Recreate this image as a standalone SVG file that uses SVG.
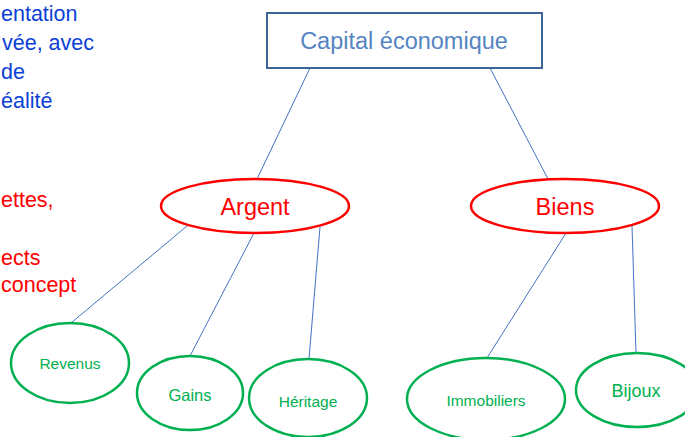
<svg xmlns="http://www.w3.org/2000/svg" width="685" height="437" viewBox="0 0 685 437">
<style>
text{font-family:"Liberation Sans",Arial,sans-serif}
.side-b{fill:#0B3FD6;font-size:21.5px}
.side-r{fill:#FF0000;font-size:21.5px}
.conn{stroke:#4472C4;stroke-width:1;fill:none}
.red ellipse{fill:#fff;stroke:#FF0000;stroke-width:2.5}
.red text{fill:#FF0000;font-size:23.5px;text-anchor:middle}
.green ellipse{fill:#fff;stroke:#00B050;stroke-width:2.5}
.green text{fill:#00B050;text-anchor:middle}
</style>
<rect width="685" height="437" fill="#fff"/>
<g id="side-text">
<text class="side-b" x="1" y="21">entation</text>
<text class="side-b" x="2" y="50">vée, avec</text>
<text class="side-b" x="1" y="79">de</text>
<text class="side-b" x="1" y="108">éalité</text>
<text class="side-r" x="1" y="207">ettes,</text>
<text class="side-r" x="1" y="265">ects</text>
<text class="side-r" x="1" y="292">concept</text>
</g>
<g id="connectors">
<line class="conn" x1="310" y1="68" x2="257" y2="179"/>
<line class="conn" x1="490" y1="68" x2="548" y2="179"/>
<line class="conn" x1="187" y1="226" x2="71" y2="323"/>
<line class="conn" x1="254" y1="233" x2="190" y2="356"/>
<line class="conn" x1="320" y1="227" x2="309" y2="359"/>
<line class="conn" x1="566" y1="233" x2="487" y2="358"/>
<line class="conn" x1="632" y1="226" x2="636" y2="353"/>
</g>
<g id="capital">
<rect x="267" y="13" width="275" height="55" fill="#fff" stroke="#3D6496" stroke-width="2"/>
<text x="404" y="49" text-anchor="middle" font-size="23.5" fill="#5584C2">Capital économique</text>
</g>
<g id="argent" class="red">
<ellipse cx="255" cy="206" rx="94" ry="27"/>
<text x="255" y="215">Argent</text>
</g>
<g id="biens" class="red">
<ellipse cx="565" cy="206" rx="94" ry="27"/>
<text x="565" y="215">Biens</text>
</g>
<g id="revenus" class="green">
<ellipse cx="70" cy="363" rx="59" ry="40"/>
<text x="70" y="369" font-size="15.5">Revenus</text>
</g>
<g id="gains" class="green">
<ellipse cx="190" cy="393" rx="53" ry="37"/>
<text x="190" y="401" font-size="16.5">Gains</text>
</g>
<g id="heritage" class="green">
<ellipse cx="308" cy="398" rx="59" ry="39"/>
<text x="308" y="407" font-size="15.5">Héritage</text>
</g>
<g id="immobiliers" class="green">
<ellipse cx="486" cy="399" rx="79" ry="41"/>
<text x="486" y="406" font-size="15.5">Immobiliers</text>
</g>
<g id="bijoux" class="green">
<ellipse cx="637" cy="390" rx="61" ry="37"/>
<text x="636" y="397" font-size="18">Bijoux</text>
</g>
</svg>
